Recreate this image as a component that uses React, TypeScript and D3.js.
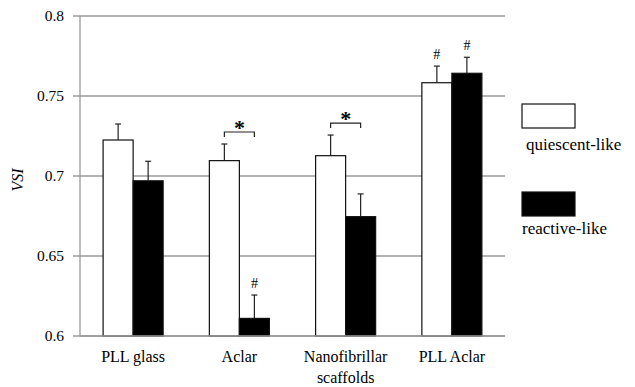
import * as d3 from 'd3'

const categories = ['PLL glass', 'Aclar', 'Nanofibrillar\nscaffolds', 'PLL Aclar']
const seriesNames = ['quiescent-like', 'reactive-like']
const quiescent = [0.7225, 0.7096, 0.7127, 0.7583]
const quiescentErr = [0.0100, 0.0104, 0.0129, 0.0104]
const reactive = [0.697, 0.611, 0.6746, 0.7642]
const reactiveErr = [0.0122, 0.0146, 0.0142, 0.0100]
const yTicks = [0.6, 0.65, 0.7, 0.75, 0.8]
// '#' marks: [category, series]
const hashMarks: [number, number][] = [[1, 1], [3, 0], [3, 1]]
// '*' brackets across both bars of a category
const starGroups = [1, 2]

const W = 635
const H = 387
const margin = { top: 16, right: 130, bottom: 51, left: 80 }
const FONT = "Liberation Serif, Tinos, Times New Roman, Noto Serif, DejaVu Serif, FreeSerif, serif"

export default function App() {
  const innerW = W - margin.left - margin.right
  const x = d3.scaleBand<number>()
    .domain(d3.range(categories.length))
    .range([margin.left, margin.left + innerW])
    .paddingInner(0.435)
    .paddingOuter(0.2175)
  const sub = d3.scaleBand<number>().domain([0, 1]).range([0, x.bandwidth()])
  const y = d3.scaleLinear().domain([0.6, 0.8]).range([H - margin.bottom, margin.top])
  const fmt = (v: number) => String(+v.toFixed(2))

  const series = [
    { vals: quiescent, err: quiescentErr, fill: '#fff' },
    { vals: reactive, err: reactiveErr, fill: '#000' },
  ]
  const gridColor = '#9a9a9a'
  const x0 = margin.left
  const x1 = margin.left + innerW

  return (
    <div style={{ position: 'absolute', left: 0, top: 0 }}>
      <svg width={W} height={H} fontFamily={FONT} style={{ display: 'block', background: '#fff' }}>
        {/* grid + ticks */}
        {yTicks.map(t => (
          <g key={t}>
            <line x1={x0 - 7} x2={x1} y1={y(t)} y2={y(t)} stroke={gridColor} strokeWidth={1.3} />
            <text x={64} y={y(t)} dy="0.35em" textAnchor="end" fontSize={15.5}>{fmt(t)}</text>
          </g>
        ))}
        <line x1={x0} x2={x0} y1={y(0.8)} y2={y(0.6)} stroke={gridColor} strokeWidth={1.3} />
        <text transform={`translate(23,${(y(0.6) + y(0.8)) / 2 + 4}) rotate(-90)`} textAnchor="middle"
          fontSize={16} fontStyle="italic">VSI</text>

        {/* bars */}
        {categories.map((c, i) => (
          <g key={c}>
            {series.map((s, j) => {
              const bx = (x(i) ?? 0) + (sub(j) ?? 0)
              const cx = bx + sub.bandwidth() / 2
              const top = y(s.vals[i])
              const eTop = y(s.vals[i] + s.err[i])
              return (
                <g key={j}>
                  <line x1={cx} x2={cx} y1={top} y2={eTop} stroke="#222" strokeWidth={1.2} />
                  <line x1={cx - 3} x2={cx + 3} y1={eTop} y2={eTop} stroke="#222" strokeWidth={1.2} />
                  <rect x={bx} y={top} width={sub.bandwidth()} height={y(0.6) - top}
                    fill={s.fill} stroke="#111" strokeWidth={1.2} />
                </g>
              )
            })}
          </g>
        ))}

        {/* x baseline */}
        <line x1={x0} x2={x1} y1={y(0.6)} y2={y(0.6)} stroke={gridColor} strokeWidth={1.3} />

        {/* hash marks */}
        {hashMarks.map(([i, j]) => {
          const s = series[j]
          const cx = (x(i) ?? 0) + (sub(j) ?? 0) + sub.bandwidth() / 2
          return (
            <text key={`${i}-${j}`} x={cx} y={y(s.vals[i] + s.err[i]) - 7} textAnchor="middle"
              fontSize={14}>#</text>
          )
        })}

        {/* significance brackets */}
        {starGroups.map(i => {
          const ca = (x(i) ?? 0) + (sub(0) ?? 0) + sub.bandwidth() / 2
          const cb = (x(i) ?? 0) + (sub(1) ?? 0) + sub.bandwidth() / 2
          const maxTop = Math.min(y(quiescent[i] + quiescentErr[i]), y(reactive[i] + reactiveErr[i]))
          const by = maxTop - 12
          return (
            <g key={i}>
              <path d={`M${ca},${by + 5}V${by}H${cb}V${by + 5}`} fill="none" stroke="#222" strokeWidth={1.2} />
              <text x={(ca + cb) / 2} y={by + 3} textAnchor="middle" fontSize={22} fontWeight="bold">*</text>
            </g>
          )
        })}

        {/* x labels */}
        {categories.map((c, i) => (
          <text key={c} x={(x(i) ?? 0) + x.bandwidth() / 2} y={362} textAnchor="middle" fontSize={16}>
            {c.split('\n').map((l, k) => (
              <tspan key={k} x={(x(i) ?? 0) + x.bandwidth() / 2} dy={k === 0 ? 0 : 21}>{l}</tspan>
            ))}
          </text>
        ))}

        {/* legend */}
        {seriesNames.map((n, j) => (
          <g key={n} transform={`translate(522,${104 + j * 88})`}>
            <rect width={53} height={24} fill={series[j].fill} stroke="#111" strokeWidth={1.2} />
            <text x={j === 0 ? 4 : 0} y={46 - j * 4} fontSize={17}>{n}</text>
          </g>
        ))}
      </svg>
    </div>
  )
}
